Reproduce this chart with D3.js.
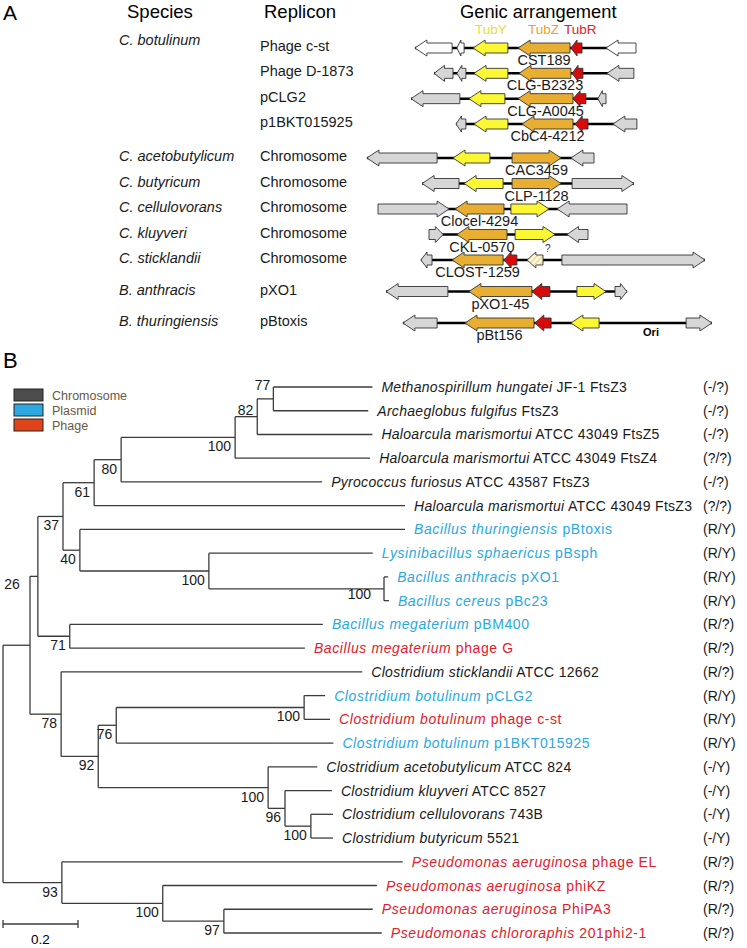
<!DOCTYPE html>
<html><head><meta charset="utf-8">
<script src="https://cdn.jsdelivr.net/npm/d3@7"></script>
<style>
html,body{margin:0;padding:0;background:#fff;}
svg{display:block;font-family:"Liberation Sans",Arial,sans-serif;}
</style></head>
<body><svg id="c" width="747" height="948"></svg>
<script>
// ---------------- Panel A data ----------------
const speciesA = ["C. botulinum","","","","C. acetobutylicum","C. butyricum","C. cellulovorans","C. kluyveri","C. sticklandii","B. anthracis","B. thuringiensis"];
const repliconsA = ["Phage c-st","Phage D-1873","pCLG2","p1BKT015925","Chromosome","Chromosome","Chromosome","Chromosome","Chromosome","pXO1","pBtoxis"];
const locusTags = ["CST189","CLG-B2323","CLG-A0045","CbC4-4212","CAC3459","CLP-1128","Clocel-4294","CKL-0570","CLOST-1259","pXO1-45","pBt156"];
const tubLegend = ["TubY","TubZ","TubR"];
// genes: [start kb, end kb, strand, type]  type: Y=TubY Z=TubZ R=TubR O=other W=other(white) U=unknown
const geneRows = [
  [[1.83,3.07,"L","W"],[3.23,3.47,"L","W"],[3.77,4.93,"L","Y"],[5.27,7.00,"L","Z"],[7.03,7.40,"L","R"],[8.20,9.20,"L","W"]],
  [[2.47,3.10,"L","O"],[3.23,3.53,"L","O"],[3.80,4.93,"L","Y"],[5.30,7.03,"L","Z"],[7.07,7.43,"L","R"],[8.23,9.13,"L","O"]],
  [[1.70,3.33,"L","O"],[3.63,4.83,"L","Y"],[5.27,7.10,"L","Z"],[7.10,7.53,"L","R"],[7.93,8.20,"L","O"]],
  [[3.20,3.53,"L","O"],[3.80,4.93,"L","Y"],[5.40,7.10,"L","Z"],[7.17,7.60,"L","R"],[8.43,9.23,"L","O"]],
  [[0.23,2.57,"L","O"],[3.10,4.33,"L","Y"],[5.07,6.70,"R","Z"],[7.03,7.80,"L","O"]],
  [[2.07,3.30,"L","O"],[3.47,4.77,"L","Y"],[5.07,6.70,"R","Z"],[7.07,9.13,"R","O"]],
  [[0.60,2.97,"R","O"],[3.17,4.80,"L","Z"],[5.03,6.30,"R","Y"],[6.57,8.90,"L","O"]],
  [[2.30,2.77,"R","O"],[3.23,4.90,"L","Z"],[5.17,6.50,"R","Y"],[6.90,7.60,"L","O"]],
  [[2.03,2.40,"L","O"],[3.07,4.77,"L","Z"],[4.80,5.23,"L","R"],[5.57,6.10,"L","U"],[6.73,11.50,"R","O"]],
  [[0.87,2.93,"L","O"],[3.63,5.73,"L","Z"],[5.73,6.33,"L","R"],[7.23,8.20,"R","Y"],[8.50,8.90,"R","O"]],
  [[1.43,2.57,"L","O"],[3.50,5.80,"L","Z"],[5.83,6.37,"L","R"],[7.03,7.97,"L","Y"],[10.87,11.73,"R","O"]]
];
const oriPos = [10, 9.7]; // [row, kb] origin of replication marker
const unknownMark = "?";

// ---------------- Panel B data ----------------
const newick = "(((((((((t0:0.264,t1:0.253)77:0.043,t2:0.307)82:0.059,t3:0.360)100:0.304,t4:0.536)80:0.072,t5:0.829)61:0.083,(t6:0.867,(t7:0.437,(t8:0.011,t9:0.013)100:0.467)100:0.344)40:0.045)37:0.067,(t10:0.675,t11:0.627)71:0.085)26:0.021,(t12:0.803,(((t13:0.056,t14:0.069)100:0.501,t15:0.579)76:0.048,(t16:0.131,(t17:0.125,(t18:0.059,t19:0.059)100:0.069)96:0.045)100:0.453)92:0.099)78:0.083):0.072,(t20:0.909,(t21:0.571,(t22:0.397,t23:0.421)97:0.163)100:0.269)93:0.157);";
const leafItalic = ["Methanospirillum hungatei","Archaeglobus fulgifus","Haloarcula marismortui","Haloarcula marismortui","Pyrococcus furiosus","Haloarcula marismortui","Bacillus thuringiensis","Lysinibacillus sphaericus","Bacillus anthracis","Bacillus cereus","Bacillus megaterium","Bacillus megaterium","Clostridium sticklandii","Clostridium botulinum","Clostridium botulinum","Clostridium botulinum","Clostridium acetobutylicum","Clostridium kluyveri","Clostridium cellulovorans","Clostridium butyricum","Pseudomonas aeruginosa","Pseudomonas aeruginosa","Pseudomonas aeruginosa","Pseudomonas chlororaphis"];
const leafRoman = [" JF-1 FtsZ3"," FtsZ3"," ATCC 43049 FtsZ5"," ATCC 43049 FtsZ4"," ATCC 43587 FtsZ3"," ATCC 43049 FtsZ3"," pBtoxis"," pBsph"," pXO1"," pBc23"," pBM400"," phage G"," ATCC 12662"," pCLG2"," phage c-st"," p1BKT015925"," ATCC 824"," ATCC 8527"," 743B"," 5521"," phage EL"," phiKZ"," PhiPA3"," 201phi2-1"];
const leafReplicon = ["Chromosome","Chromosome","Chromosome","Chromosome","Chromosome","Chromosome","Plasmid","Plasmid","Plasmid","Plasmid","Plasmid","Phage","Chromosome","Plasmid","Phage","Plasmid","Chromosome","Chromosome","Chromosome","Chromosome","Phage","Phage","Phage","Phage"];
const leafStatus = ["(-/?)","(-/?)","(-/?)","(?/?)","(-/?)","(?/?)","(R/Y)","(R/Y)","(R/Y)","(R/Y)","(R/?)","(R/?)","(R/?)","(R/Y)","(R/Y)","(R/Y)","(-/Y)","(-/Y)","(-/Y)","(-/Y)","(R/?)","(R/?)","(R/?)","(R/?)"];
const repliconTypes = ["Chromosome","Plasmid","Phage"];
const scaleBarValue = 0.2;

// ---------------- styles ----------------
const geneFill = {Y:"#fbf733",Z:"#e8ae32",R:"#d80a0a",O:"#d6d6d6",W:"#ffffff",U:"url(#hatch)"};
const tubColor = {TubY:"#e2e03c",TubZ:"#f0a02e",TubR:"#e4202a"};
const legendFill = {Chromosome:"#4d4d4d",Plasmid:"#2ca8e0",Phage:"#e0441a"};
const leafTextColor = {Chromosome:"#1a1a1a",Plasmid:"#2aa8e0",Phage:"#e2202a"};

const svg = d3.select("#c");
const defs = svg.append("defs");
const pat = defs.append("pattern").attr("id","hatch").attr("patternUnits","userSpaceOnUse")
  .attr("width",4).attr("height",4).attr("patternTransform","rotate(45)");
pat.append("rect").attr("width",4).attr("height",4).attr("fill","#fffbe8");
pat.append("rect").attr("width",1.6).attr("height",4).attr("fill","#f2d68a");

// ================= Panel A =================
const gA = svg.append("g");
gA.append("text").attr("x",3).attr("y",20).attr("font-size",21).text("A");
gA.append("text").attr("x",127).attr("y",18).attr("font-size",18.5).text("Species");
gA.append("text").attr("x",264).attr("y",18).attr("font-size",18.5).text("Replicon");
gA.append("text").attr("x",460).attr("y",18).attr("font-size",18.3).text("Genic arrangement");

const tubX = {TubY:475,TubZ:528,TubR:564};
gA.selectAll("text.tub").data(tubLegend).join("text").attr("class","tub")
  .attr("x",d=>tubX[d])
  .attr("y",34).attr("font-size",13.5).attr("fill",d=>tubColor[d]).text(d=>d);

const rowY = d3.scaleLinear().domain([0,3,4,8,10]).range([48,124,158,260,323]);
const gx = d3.scaleLinear().domain([0,12.5]).range([360,735]);

gA.selectAll("text.sp").data(speciesA).join("text").attr("class","sp")
  .attr("x",119).attr("y",(d,i)=> rowY(i) + (i===0 ? -3 : 3))
  .attr("font-size",14.5).attr("font-style","italic").attr("fill","#1a1a1a").text(d=>d);
gA.selectAll("text.rep").data(repliconsA).join("text").attr("class","rep")
  .attr("x",260).attr("y",(d,i)=> rowY(i)+3)
  .attr("font-size",14.5).attr("fill","#1a1a1a").text(d=>d);

function arrowPath(x0,x1,dir,cy){
  const bh=5, hh=8, len=x1-x0, hl=Math.min(12,len*0.55);
  if(dir==="L"){
    return `M${x0},${cy}L${x0+hl},${cy-hh}L${x0+hl},${cy-bh}L${x1},${cy-bh}L${x1},${cy+bh}L${x0+hl},${cy+bh}L${x0+hl},${cy+hh}Z`;
  }
  return `M${x1},${cy}L${x1-hl},${cy-hh}L${x1-hl},${cy-bh}L${x0},${cy-bh}L${x0},${cy+bh}L${x1-hl},${cy+bh}L${x1-hl},${cy+hh}Z`;
}

geneRows.forEach((genes,r)=>{
  const cy = rowY(r);
  const g = gA.append("g");
  const lo = d3.min(genes,d=>d[0]), hi = d3.max(genes,d=>d[1]);
  g.append("line").attr("x1",gx(lo)).attr("x2",gx(hi)).attr("y1",cy).attr("y2",cy)
    .attr("stroke","#000").attr("stroke-width",2.5);
  g.selectAll("path").data(genes).join("path")
    .attr("d",d=>arrowPath(gx(d[0]),gx(d[1]),d[2],cy))
    .attr("fill",d=>geneFill[d[3]]).attr("stroke","#333").attr("stroke-width",0.9);
  const z = genes.find(d=>d[3]==="Z");
  g.append("text").attr("x",gx((z[0]+z[1])/2)).attr("y",cy+17).attr("text-anchor","middle")
    .attr("font-size",14.5).attr("fill","#1a1a1a").text(locusTags[r]);
  const u = genes.find(d=>d[3]==="U");
  if(u){
    g.append("text").attr("x",gx(u[1])+2).attr("y",cy-8).attr("font-size",10).attr("fill","#333").text(unknownMark);
  }
});
gA.append("text").attr("x",gx(oriPos[1])).attr("y",rowY(oriPos[0])+13).attr("text-anchor","middle")
  .attr("font-size",11).attr("font-weight","bold").text("Ori");

// ================= Panel B =================
const gB = svg.append("g");
gB.append("text").attr("x",3).attr("y",368).attr("font-size",22).text("B");

// legend
const lg = gB.append("g");
const lgY = d3.scalePoint().domain(repliconTypes).range([389,419]);
lg.selectAll("rect").data(repliconTypes).join("rect")
  .attr("x",14).attr("y",d=>lgY(d)).attr("width",29).attr("height",12)
  .attr("fill",d=>legendFill[d]).attr("stroke","#222").attr("stroke-width",1);
lg.selectAll("text").data(repliconTypes).join("text")
  .attr("x",52).attr("y",d=>lgY(d)+11).attr("font-size",12.5).attr("fill","#6b5844").text(d=>d);

// newick parser
function parseNewick(s){
  let i=0;
  function node(){
    const n={};
    if(s[i]==="("){
      n.children=[]; i++;
      n.children.push(node());
      while(s[i]===","){ i++; n.children.push(node()); }
      i++;
    }
    let lab=""; while(i<s.length && !":,();".includes(s[i])) lab+=s[i++];
    n.label=lab;
    n.length=0;
    if(s[i]===":"){ i++; let l=""; while(i<s.length && !",();".includes(s[i])) l+=s[i++]; n.length=+l; }
    return n;
  }
  return node();
}
const root = d3.hierarchy(parseNewick(newick));
root.eachBefore(n=>{ n.dist = (n.parent ? n.parent.dist : 0) + (n.parent ? n.data.length : 0); });
const tx = d3.scaleLinear().domain([0,1]).range([3,378]);
const ty = d3.scaleLinear().domain([0,leafItalic.length-1]).range([387,933]);
root.eachAfter(n=>{
  if(!n.children){ n.idx = +n.data.label.slice(1); n.yy = ty(n.idx); n.first = n.idx; }
  else { n.yy = (n.children[0].yy + n.children[n.children.length-1].yy)/2; n.first = n.children[0].first; }
});

const lineColor="#3c3c3c", lw=1.3;
const links = root.descendants().filter(n=>n.parent);
gB.selectAll("line.h").data(links).join("line").attr("class","h")
  .attr("x1",d=>tx(d.parent.dist)).attr("x2",d=>tx(d.dist)).attr("y1",d=>d.yy).attr("y2",d=>d.yy)
  .attr("stroke",lineColor).attr("stroke-width",lw);
const internals = root.descendants().filter(n=>n.children);
gB.selectAll("line.v").data(internals).join("line").attr("class","v")
  .attr("x1",d=>tx(d.dist)).attr("x2",d=>tx(d.dist))
  .attr("y1",d=>d.children[0].yy).attr("y2",d=>d.children[d.children.length-1].yy)
  .attr("stroke",lineColor).attr("stroke-width",lw);

// bootstrap labels
const labelNudge = {"77@0":[-3,-9],"82@0":[-4,-2],"26@0":[-18,13],"100@8":[-13,10]};
gB.selectAll("text.bs").data(internals.filter(n=>n.data.label)).join("text").attr("class","bs")
  .attr("x",d=>{const k=d.data.label+"@"+d.first; return tx(d.dist)+(labelNudge[k]?labelNudge[k][0]:-4);})
  .attr("y",d=>{const k=d.data.label+"@"+d.first; return d.yy+(labelNudge[k]?labelNudge[k][1]:14);})
  .attr("text-anchor","end").attr("font-size",14).attr("fill","#1a1a1a").text(d=>d.data.label);

// leaf labels
const leaves = root.leaves();
const lt = gB.selectAll("text.leaf").data(leaves).join("text").attr("class","leaf")
  .attr("x",d=>tx(d.dist)+9).attr("y",d=>d.yy+5).attr("font-size",14)
  .attr("fill",d=>leafTextColor[leafReplicon[d.idx]])
  .attr("letter-spacing",d=>leafReplicon[d.idx]==="Chromosome"?0.3:0.6);
lt.append("tspan").attr("font-style","italic").text(d=>leafItalic[d.idx]);
lt.append("tspan").text(d=>leafRoman[d.idx]);

gB.selectAll("text.st").data(leaves).join("text").attr("class","st")
  .attr("x",703).attr("y",d=>d.yy+5).attr("font-size",14).attr("fill","#1a1a1a").text(d=>leafStatus[d.idx]);

// scale bar
const sb = gB.append("g");
const sbY = 924;
sb.append("line").attr("x1",tx(0)).attr("x2",tx(scaleBarValue)).attr("y1",sbY).attr("y2",sbY).attr("stroke",lineColor).attr("stroke-width",lw);
[0,scaleBarValue].forEach(v=>sb.append("line").attr("x1",tx(v)).attr("x2",tx(v)).attr("y1",sbY-4).attr("y2",sbY+4).attr("stroke",lineColor).attr("stroke-width",lw));
sb.append("text").attr("x",tx(scaleBarValue/2)).attr("y",944).attr("text-anchor","middle").attr("font-size",13.5).text(String(scaleBarValue));
</script></body></html>
